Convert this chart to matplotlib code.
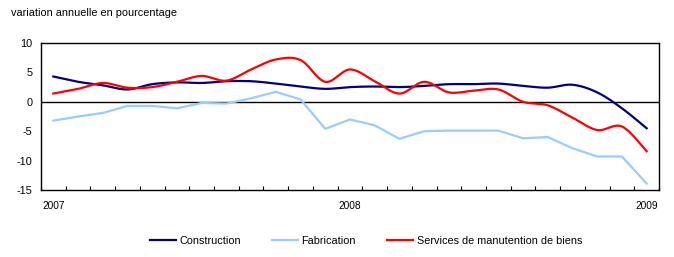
import numpy as np
import matplotlib.pyplot as plt
from matplotlib.lines import Line2D

plt.rcParams['font.family'] = ['Liberation Sans', 'DejaVu Sans']

# --- data: monthly, Jan 2007 .. Jan 2009 ---
year_labels = ['2007', '2008', '2009']
construction = [4.3, 3.4, 2.8, 2.1, 3.0, 3.3, 3.2, 3.5, 3.5, 3.1, 2.6, 2.2, 2.5,
                2.6, 2.5, 2.7, 3.0, 3.0, 3.1, 2.7, 2.4, 2.9, 1.6, -1.1, -4.5]
fabrication = [-3.2, -2.5, -1.9, -0.7, -0.7, -1.1, -0.2, -0.3, 0.6, 1.7, 0.4, -4.6, -3.0,
               -4.0, -6.3, -5.0, -4.9, -4.9, -4.9, -6.2, -6.0, -7.9, -9.3, -9.3, -13.9]
services = [1.4, 2.2, 3.2, 2.4, 2.5, 3.4, 4.4, 3.6, 5.5, 7.2, 7.1, 3.4, 5.5,
            3.5, 1.4, 3.4, 1.6, 1.9, 2.1, 0.0, -0.6, -2.7, -4.8, -4.2, -8.4]
names = ['Construction', 'Fabrication', 'Services de manutention de biens']
colors = ['#000080', '#99ccff', '#ff0000']


def smooth(y, n=20):
    'catmull-rom style smoothing, like the spreadsheet "smoothed line" option.'
    y = np.asarray(y, float)
    x = np.arange(len(y), dtype=float)
    p = np.column_stack([x, y])
    pp = np.vstack([p[0], p, p[-1]])
    out = []
    t = np.linspace(0, 1, n)[:, None]
    for i in range(len(p) - 1):
        p0, p3 = pp[i + 1], pp[i + 2]
        c1 = p0 + (pp[i + 2] - pp[i]) / 6
        c2 = p3 - (pp[i + 3] - pp[i + 1]) / 6
        seg = (1 - t) ** 3 * p0 + 3 * (1 - t) ** 2 * t * c1 + 3 * (1 - t) * t ** 2 * c2 + t ** 3 * p3
        out.append(seg if i == 0 else seg[1:])
    out = np.vstack(out)
    return out[:, 0], out[:, 1]


fig = plt.figure(figsize=(6.74, 2.57), dpi=100)
ax = fig.add_axes([41 / 674, 1 - 190 / 257, 618 / 674, 147 / 257])

x = np.arange(len(construction))
ax.axhline(0, color='black', lw=1, zorder=1)
xs, ys = smooth(construction)
ax.plot(xs, ys, color=colors[0], lw=1.6, zorder=3)
ax.plot(x, fabrication, color=colors[1], lw=1.6, zorder=2)
xs, ys = smooth(services)
ax.plot(xs, ys, color=colors[2], lw=1.6, zorder=4)

ax.set_xlim(-0.5, len(x) - 0.5)
ax.set_ylim(-15, 10)
ax.set_yticks([-15, -10, -5, 0, 5, 10])
ax.set_yticklabels(['-15', '-10', '-5', '0', '5', '10'])
ax.set_xticks([0, 12, 24])
ax.set_xticklabels(year_labels)
ax.set_xticks(np.arange(-0.5, len(x)), minor=True)
ax.tick_params(axis='x', which='major', length=0, pad=8, labelsize=7.3)
ax.tick_params(axis='x', which='minor', direction='in', length=3, width=0.8)
ax.tick_params(axis='y', length=0, pad=6, labelsize=7.8)
for s in ax.spines.values():
    s.set_linewidth(1)

fig.text(11 / 674, 1 - 13 / 257, 'variation annuelle en pourcentage',
         fontsize=7.8, va='center', ha='left')

handles = [Line2D([], [], color=c, lw=1.6) for c in colors]
fig.legend(handles, names, loc='center', bbox_to_anchor=(366 / 674, 1 - 241 / 257),
           ncol=3, frameon=False, fontsize=7.8, handlelength=2.4,
           handletextpad=0.3, columnspacing=2.9)

fig.savefig('out.png', dpi=100)
